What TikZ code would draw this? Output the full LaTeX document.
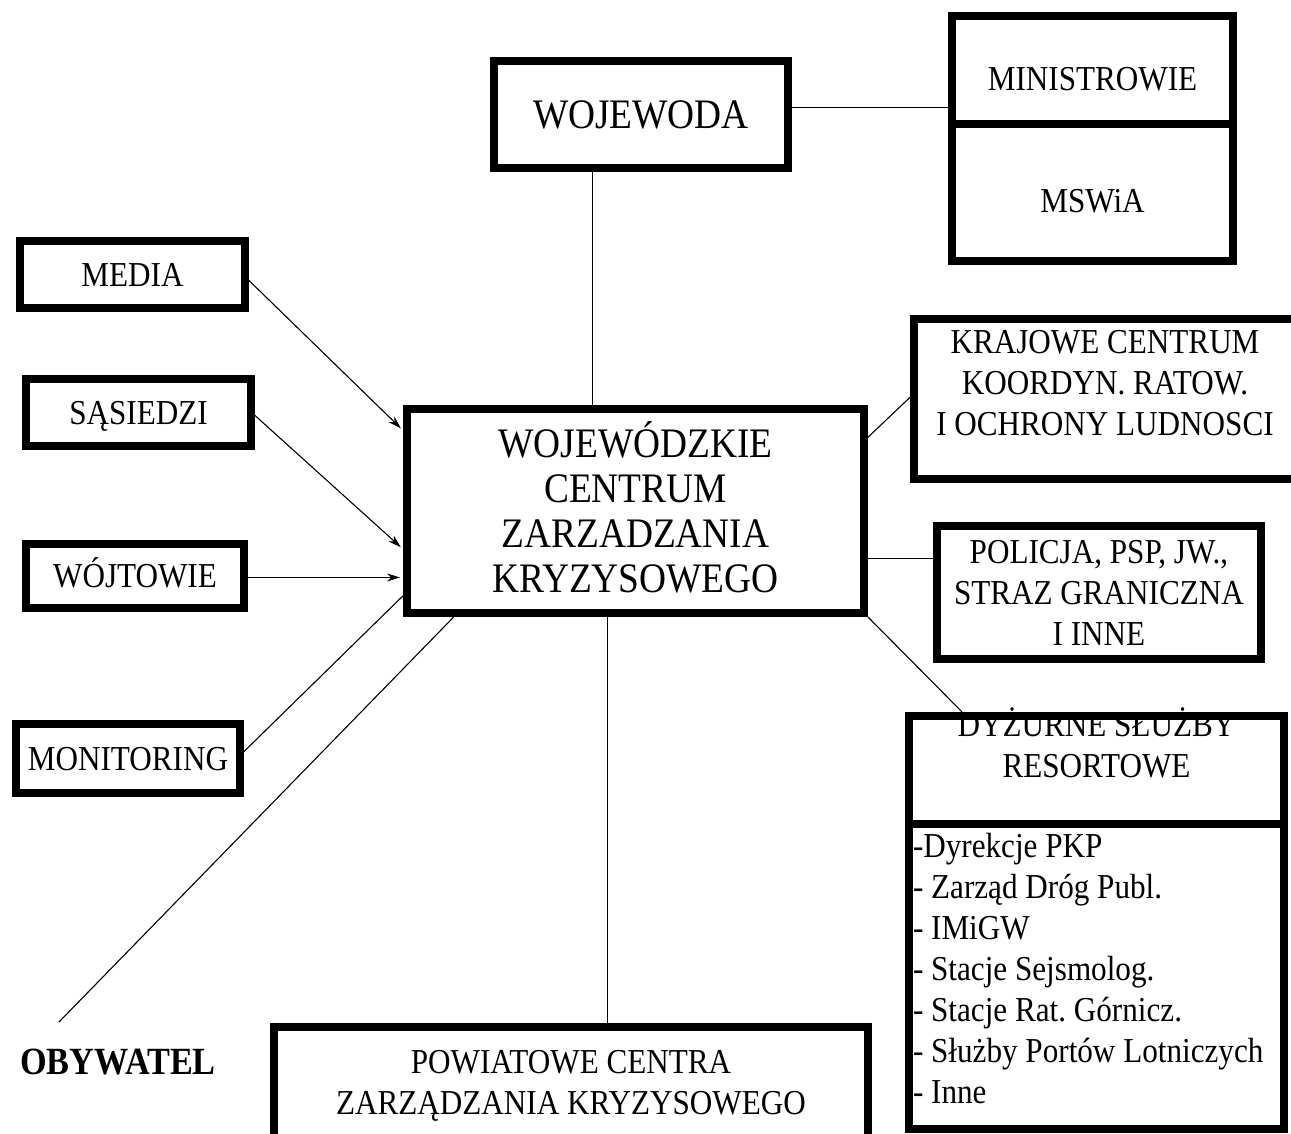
\documentclass[tikz,border=0pt]{standalone}
\usepackage{fontspec}
\setmainfont{Liberation Serif}[FakeStretch=0.89]
\usetikzlibrary{calc,arrows.meta}
\newcommand\fs[2]{\fontsize{#1}{#2}\selectfont\frenchspacing}
\tikzset{
  box/.style={draw, line width=8pt, rectangle, inner sep=0pt, align=center},
  tA/.style={font=\fs{35}{41}},
  tB/.style={font=\fs{42}{45}},
  tx/.style 2 args={text height=#1, text depth=#2},
  conn/.style={line width=1.1pt},
  arr/.style={conn, shorten >=3pt, -{Stealth[length=13pt,width=8pt]}}
}
\begin{document}
\begin{tikzpicture}[x=1pt,y=-1pt]
\path[use as bounding box, clip] (0,0) rectangle (1291,1134);

% top
\node[box, tB, tx={27.8pt}{0pt}, minimum width=294pt, minimum height=107pt] (woj) at (641,114.5) {WOJEWODA};
\node[box, tA, tx={41.2pt}{0pt}, minimum width=281pt, minimum height=108pt] (minA) at (1092.5,70) {MINISTROWIE};
\node[box, tA, tx={40.2pt}{0pt}, minimum width=281pt, minimum height=137pt] (minB) at (1092.5,192.5) {MSWiA};

% left
\node[box, tA, tx={23.2pt}{0pt}, minimum width=225pt, minimum height=67pt] (media) at (132.5,274.5) {MEDIA};
\node[box, tA, tx={23.2pt}{0pt}, minimum width=225pt, minimum height=67pt] (sas) at (138.5,412.5) {SĄSIEDZI};
\node[box, tA, tx={23.2pt}{0pt}, minimum width=218pt, minimum height=64pt] (wojt) at (135,576) {WÓJTOWIE};
\node[box, tA, tx={23.2pt}{0pt}, minimum width=224pt, minimum height=69pt] (mon) at (128,758.5) {MONITORING};
\node[font=\bfseries\fs{38.5}{41}, tx={25.5pt}{0pt}, inner sep=0pt] (oby) at (118,1062) {OBYWATEL};
\coordinate (obyline) at (59,1022);

% centre
\node[box, tB, tx={162.8pt}{0pt}, minimum width=457pt, minimum height=204pt] (cen) at (635.5,511)
  {WOJEWÓDZKIE\\CENTRUM\\ZARZADZANIA\\KRYZYSOWEGO};

% right
\node[box, tA, tx={72.2pt}{0pt}, minimum width=382pt, minimum height=160pt] (kraj) at (1105,399)
  {KRAJOWE CENTRUM\\KOORDYN. RATOW.\\I OCHRONY LUDNOSCI};
\node[box, tA, tx={105.2pt}{0pt}, minimum width=324pt, minimum height=133pt] (pol) at (1099,592.5)
  {POLICJA, PSP, JW.,\\STRAZ GRANICZNA\\I INNE};
\node[box, tA, tx={14.2pt}{0pt}, minimum width=375pt, minimum height=108pt] (dyzA) at (1096.5,770)
  {DYŻURNE SŁUŻBY\\RESORTOWE};
\node[box, tA, tx={23.2pt}{262pt}, align=flush left, text width=367pt, minimum width=375pt, minimum height=305pt] (dyzB) at (1096.5,976.5)
  {-Dyrekcje PKP\\- Zarząd Dróg Publ.\\- IMiGW\\- Stacje Sejsmolog.\\- Stacje Rat. Górnicz.\\- Służby Portów Lotniczych\\- Inne};

% bottom
\node[box, tA, tx={64.2pt}{0pt}, minimum width=594pt, minimum height=111pt] (pow) at (571,1082.5)
  {POWIATOWE CENTRA\\ZARZĄDZANIA KRYZYSOWEGO};

% connectors
\draw[conn] ($(woj.south west)!0.34!(woj.south east)$) coordinate (c1) -- (c1 |- cen.north);
\draw[conn] ($(woj.north east)!0.44!(woj.south east)$) coordinate (c2) -- (c2 -| minA.west);
\draw[arr] ($(media.north east)!0.58!(media.south east)$) -- ($(cen.north west)!0.12!(cen.south west)$);
\draw[arr] ($(sas.north east)!0.54!(sas.south east)$) -- ($(cen.north west)!0.68!(cen.south west)$);
\draw[arr] ($(wojt.north east)!0.52!(wojt.south east)$) coordinate (c3) -- (c3 -| cen.west);
\draw[conn] ($(mon.north east)!0.41!(mon.south east)$) -- ($(cen.north west)!0.90!(cen.south west)$);
\draw[conn] (obyline) -- ($(cen.south west)!0.109!(cen.south east)$);
\draw[conn] ($(cen.south west)!0.44!(cen.south east)$) coordinate (c4) -- (c4 |- pow.north);
\draw[conn] ($(cen.north east)!0.152!(cen.south east)$) -- ($(kraj.north west)!0.49!(kraj.south west)$);
\draw[conn] ($(cen.north east)!0.725!(cen.south east)$) coordinate (c5) -- (c5 -| pol.west);
\draw[conn] (cen.south east) -- ($(dyzA.north west)!0.149!(dyzA.north east)$);
\end{tikzpicture}
\end{document}
